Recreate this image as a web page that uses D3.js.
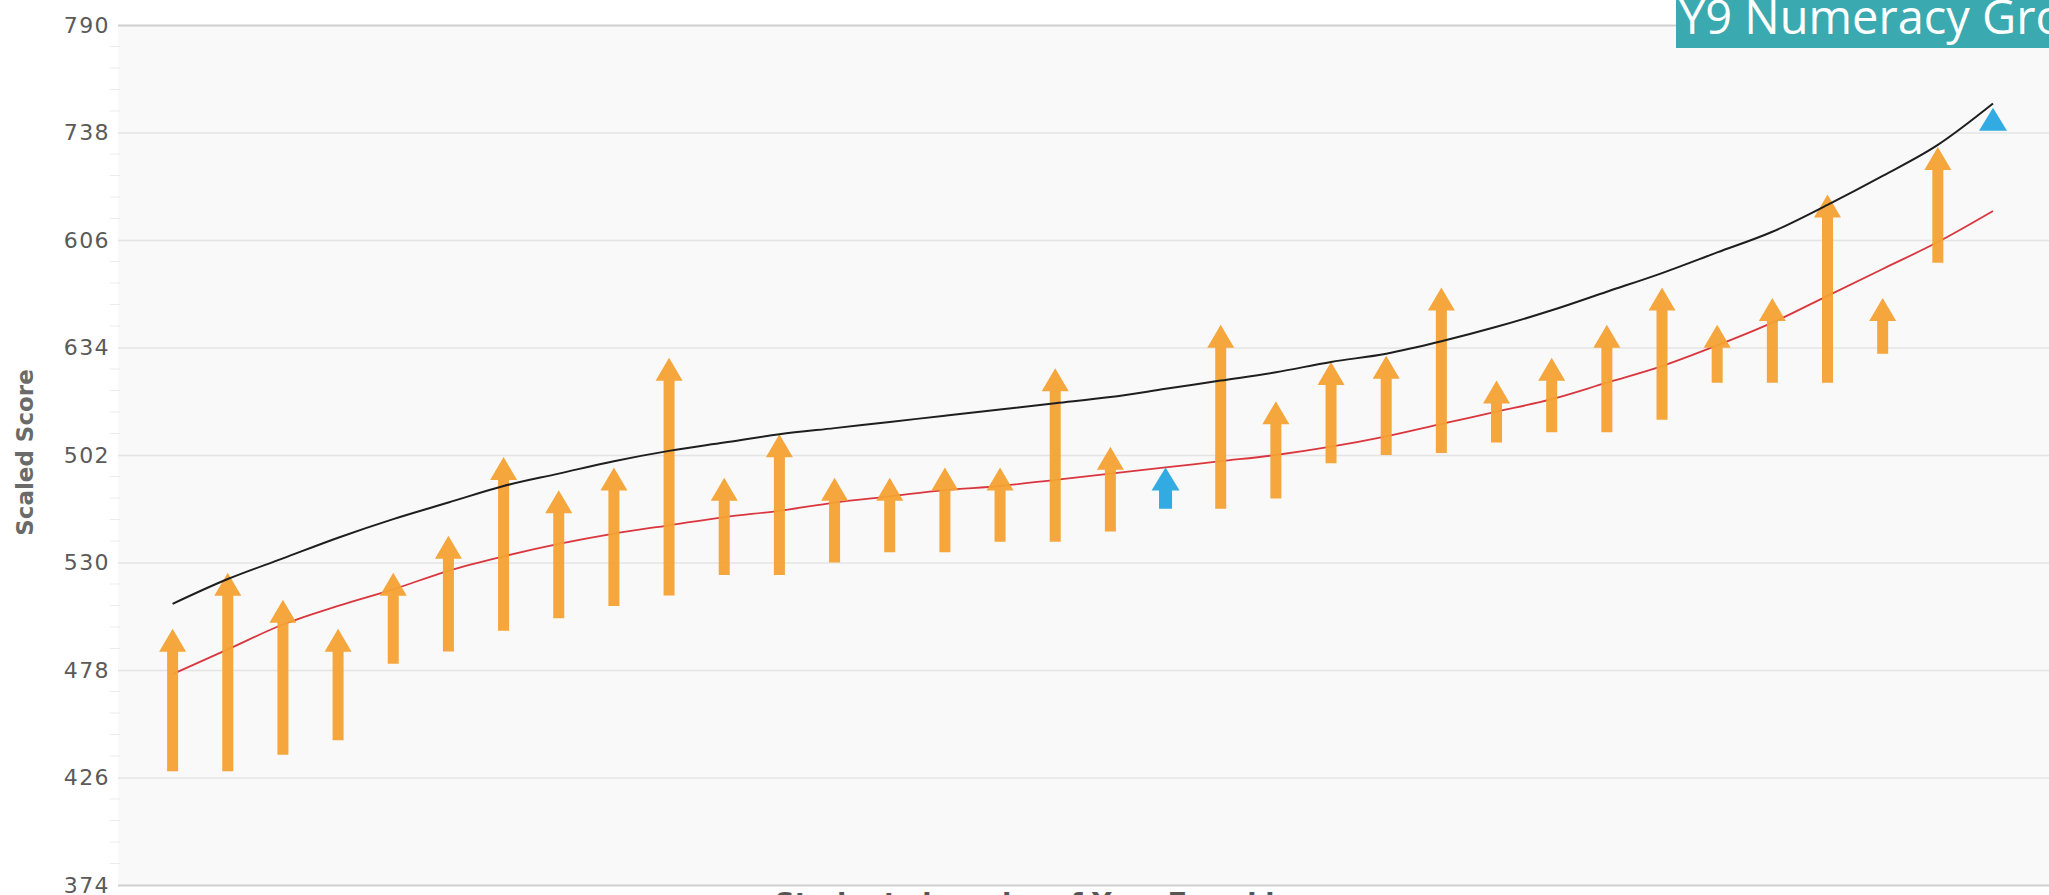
<!DOCTYPE html>
<html>
<head>
<meta charset="utf-8">
<script src="https://cdn.jsdelivr.net/npm/d3@7"></script>
<style>
  html, body { margin: 0; padding: 0; background: #fff; overflow: hidden; }
  #chart { width: 2049px; height: 895px; }
</style>
</head>
<body>
<div id="chart"></div>
<script>
// tick values on the scale, and the labels as printed on the chart (yes, 502/606 are off)
const tickValues = [374, 426, 478, 530, 582, 634, 686, 738, 790];
const tickLabels = ["374", "426", "478", "530", "502", "634", "606", "738", "790"];

// one entry per student, left to right
const students = d3.range(1, 35);
const startScore = [429, 429, 437, 444, 481, 487, 497, 503, 509, 514, 524, 524, 530, 535, 535, 540, 540,
  545, 556, 556, 561, 578, 582, 583, 588, 593, 593, 599, 617, 617, 617, 631, 675, 739];
const endScore = [498, 525, 512, 498, 525, 543, 581, 565, 576, 629, 571, 592, 571, 571, 576, 576, 624,
  586, 576, 645, 608, 627, 630, 663, 618, 629, 645, 663, 645, 658, 708, 658, 731, 750];
// blue = below expected growth
const belowExpected = [19, 34];
const upperCurve = [510, 522, 532, 542, 551, 559, 567, 573, 579, 584, 588, 592, 595, 598, 601, 604, 607,
  610, 614, 618, 622, 627, 631, 637, 644, 652, 661, 670, 680, 690, 703, 717, 732, 752];
const expectedCurve = [476, 488, 500, 509, 517, 526, 533, 539, 544, 548, 552, 555, 559, 562, 565, 567, 570,
  573, 576, 579, 582, 586, 591, 597, 603, 609, 617, 625, 635, 646, 659, 672, 685, 700];

const yTitle = "Scaled Score";
const xTitle = "Students in order of Year 7 ranking score";
const boxTitle = "Y9 Numeracy Growth";

const width = 2049, height = 895;
const margin = ({top: 25, right: 0, bottom: 10, left: 118});

const x = d3.scaleLinear()
  .domain([1, 34])
  .range([172.6, 1993]);
const y = d3.scaleLinear()
  .domain([374, 790])
  .range([885, 25]);

const svg = d3.select("#chart")
  .append("svg")
  .attr("width", width)
  .attr("height", height)
  .attr("viewBox", [0, 0, width, height]);

// plot background
svg.append("rect")
  .attr("x", margin.left)
  .attr("y", y(790))
  .attr("width", width - margin.left)
  .attr("height", y(374) - y(790))
  .attr("fill", "#f9f9f9");

// minor ticks, very faint
const minor = [];
for (let v = 374; v < 790; v += 52) for (let k = 1; k < 5; k++) minor.push(v + k * 52 / 5);
svg.append("g")
  .selectAll("line")
  .data(minor)
  .join("line")
  .attr("x1", 110).attr("x2", 120)
  .attr("y1", d => y(d)).attr("y2", d => y(d))
  .attr("stroke", "#ececec");

// grid
svg.append("g")
  .attr("transform", `translate(${margin.left},0)`)
  .call(d3.axisLeft(y).tickValues(tickValues).tickSize(-(width - margin.left)).tickFormat(""))
  .call(g => g.select(".domain").remove())
  .call(g => g.selectAll(".tick line")
    .attr("stroke", d => (d === 790 || d === 374) ? "#cfcfcf" : "#e4e4e4")
    .attr("stroke-width", d => (d === 790 || d === 374) ? 2 : 1.3));

// y labels
svg.append("g")
  .attr("transform", `translate(${margin.left},0)`)
  .call(d3.axisLeft(y).tickValues(tickValues).tickSize(0).tickPadding(8)
    .tickFormat((d, i) => tickLabels[i]))
  .call(g => g.select(".domain").remove())
  .call(g => g.selectAll(".tick text")
    .attr("font-family", "DejaVu Sans, Verdana, sans-serif")
    .attr("font-size", 22)
    .attr("letter-spacing", 1.4)
    .attr("fill", "#5a5a5a"));

svg.append("text")
  .attr("transform", `translate(33,${(365 + 540) / 2}) rotate(-90)`)
  .attr("text-anchor", "middle")
  .attr("font-family", "DejaVu Sans, Verdana, sans-serif")
  .attr("font-weight", "bold")
  .attr("font-size", 23)
  .attr("fill", "#6a6a6a")
  .text(yTitle);

// the chart is cropped at the bottom, only the top of this title shows
svg.append("text")
  .attr("x", 1090)
  .attr("y", 912)
  .attr("text-anchor", "middle")
  .attr("font-family", "DejaVu Sans, Verdana, sans-serif")
  .attr("font-weight", "bold")
  .attr("font-size", 27)
  .attr("fill", "#555")
  .text(xTitle);

// curves
const line = d3.line()
  .x((d, i) => x(students[i]))
  .y(d => y(d))
  .curve(d3.curveMonotoneX);

svg.append("path")
  .attr("d", line(expectedCurve))
  .attr("fill", "none")
  .attr("stroke", "#d9363e")
  .attr("stroke-width", 1.8);

// arrows
const headH = 23;
const arrows = students.map((s, i) => ({
  s, start: startScore[i], end: endScore[i], blue: belowExpected.includes(s)
}));

const arrowPath = d => {
  const cx = x(d.s);
  const yTip = y(d.end);
  const yBase = y(d.start);
  const hw = d.blue ? 14 : 13.5;
  const sw = d.blue ? 6.5 : 5.5;
  const yNeck = yTip + headH;
  if (yBase - yNeck < 1) {
    return `M${cx},${yTip}L${cx + hw},${yNeck}L${cx - hw},${yNeck}Z`;
  }
  return `M${cx},${yTip}L${cx + hw},${yNeck}L${cx + sw},${yNeck}L${cx + sw},${yBase}` +
    `L${cx - sw},${yBase}L${cx - sw},${yNeck}L${cx - hw},${yNeck}Z`;
};

svg.append("g")
  .selectAll("path")
  .data(arrows)
  .join("path")
  .attr("d", arrowPath)
  .attr("fill", d => d.blue ? "#27a6e2" : "#f4a233")
  .attr("fill-opacity", 0.95);

svg.append("path")
  .attr("d", line(upperCurve))
  .attr("fill", "none")
  .attr("stroke", "#1e1e1e")
  .attr("stroke-width", 2);

// title box top right
svg.append("rect")
  .attr("x", 1676)
  .attr("y", 0)
  .attr("width", width - 1676)
  .attr("height", 48)
  .attr("fill", "#3aaab0");

svg.append("text")
  .attr("x", 1679)
  .attr("y", 34)
  .attr("font-family", "Open Sans, sans-serif")
  .attr("font-size", 47)
  .attr("fill", "#fff")
  .text(boxTitle);
</script>
</body>
</html>
